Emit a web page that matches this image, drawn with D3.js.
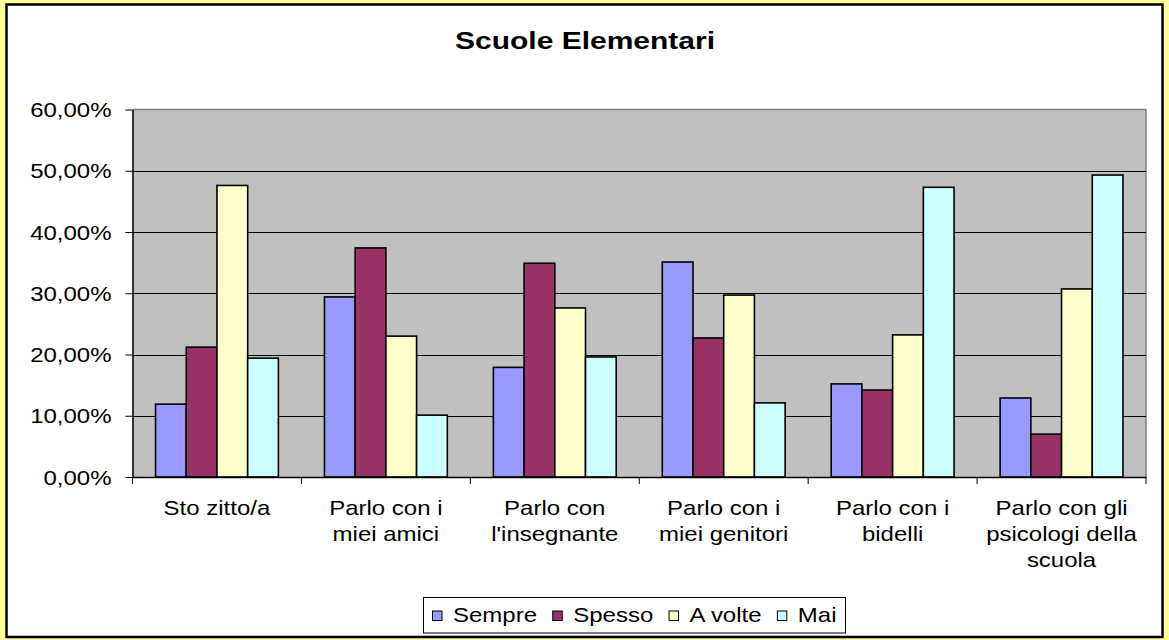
<!DOCTYPE html>
<html>
<head>
<meta charset="utf-8">
<script src="https://cdn.jsdelivr.net/npm/d3@7"></script>
<style>
  body { margin: 0; background: #ffff99; }
  text { font-family: "Liberation Sans", Arial, sans-serif; fill: #000; }
</style>
</head>
<body>
<div id="chart"></div>
<script>
// data
const categories = [
  "Sto zitto/a",
  "Parlo con i miei amici",
  "Parlo con l'insegnante",
  "Parlo con i miei genitori",
  "Parlo con i bidelli",
  "Parlo con gli psicologi della scuola",
];
const categoryLines = [
  ["Sto zitto/a"],
  ["Parlo con i", "miei amici"],
  ["Parlo con", "l'insegnante"],
  ["Parlo con i", "miei genitori"],
  ["Parlo con i", "bidelli"],
  ["Parlo con gli", "psicologi della", "scuola"],
];
const seriesNames = ["Sempre", "Spesso", "A volte", "Mai"];
const sempre = [0.119, 0.294, 0.179, 0.351, 0.152, 0.129];
const spesso = [0.212, 0.374, 0.349, 0.227, 0.142, 0.07];
const aVolte = [0.476, 0.23, 0.276, 0.297, 0.232, 0.307];
const mai = [0.194, 0.101, 0.196, 0.121, 0.473, 0.493];
const yTicks = [0, 0.1, 0.2, 0.3, 0.4, 0.5, 0.6];
const colors = ["#9999ff", "#993366", "#ffffcc", "#ccffff"];

const values = [sempre, spesso, aVolte, mai];
const table = categories.map((c, i) => ({
  category: c,
  lines: categoryLines[i],
  bars: seriesNames.map((s, j) => ({ series: s, value: values[j][i] })),
}));

const width = 1169;
const height = 640;
const plot = { left: 132.5, right: 1146, top: 109.5, bottom: 477 };
const stretch = 1.2; // text in the picture is drawn wider than normal

const it = d3.formatLocale({ decimal: ",", thousands: ".", grouping: [3], currency: ["€", ""] });
const pct = it.format(".2%");

const svg = d3
  .select("#chart")
  .append("svg")
  .attr("width", width)
  .attr("height", height);

svg.append("rect").attr("width", width).attr("height", height).attr("fill", "#ffff99");
svg
  .append("rect")
  .attr("x", 6.5)
  .attr("y", 4.5)
  .attr("width", 1156)
  .attr("height", 632.5)
  .attr("fill", "#fff")
  .attr("stroke", "#000")
  .attr("stroke-width", 2.5);

// title
svg
  .append("text")
  .attr("transform", `translate(585,49) scale(1.25,1)`)
  .attr("text-anchor", "middle")
  .style("font-size", "24px")
  .style("font-weight", "bold")
  .text("Scuole Elementari");

const x0 = d3.scaleBand().domain(categories).range([plot.left, plot.right]);
const x1 = d3
  .scaleBand()
  .domain(seriesNames)
  .range([0, x0.bandwidth()])
  .paddingInner(0)
  .paddingOuter(0.75);
const y = d3.scaleLinear().domain([0, 0.6]).range([plot.bottom, plot.top]);
const color = d3.scaleOrdinal().domain(seriesNames).range(colors);

// plot area
svg
  .append("rect")
  .attr("x", plot.left)
  .attr("y", plot.top)
  .attr("width", plot.right - plot.left)
  .attr("height", plot.bottom - plot.top)
  .attr("fill", "#c0c0c0");

svg
  .append("path")
  .attr("d", `M${plot.left},${plot.top}H${plot.right}V${plot.bottom}`)
  .attr("fill", "none")
  .attr("stroke", "#808080")
  .attr("stroke-width", 1.5);

svg
  .append("g")
  .selectAll("line")
  .data(yTicks.filter((t) => t > 0 && t < 0.6))
  .enter()
  .append("line")
  .attr("x1", plot.left)
  .attr("x2", plot.right)
  .attr("y1", (d) => Math.round(y(d)) + 0.5)
  .attr("y2", (d) => Math.round(y(d)) + 0.5)
  .attr("stroke", "#000")
  .attr("stroke-width", 1);

// bars
const group = svg
  .selectAll(".group")
  .data(table)
  .enter()
  .append("g")
  .attr("class", "group")
  .attr("transform", (d) => `translate(${x0(d.category)},0)`);

group
  .selectAll("rect")
  .data((d) => d.bars)
  .enter()
  .append("rect")
  .attr("x", (d) => x1(d.series))
  .attr("y", (d) => y(d.value))
  .attr("width", x1.bandwidth())
  .attr("height", (d) => y(0) - y(d.value))
  .attr("fill", (d) => color(d.series))
  .attr("stroke", "#000")
  .attr("stroke-width", 1.6);

// y axis
const yAxis = svg
  .append("g")
  .attr("transform", `translate(${plot.left},0)`)
  .call(d3.axisLeft(y).tickValues(yTicks).tickFormat(pct).tickSize(7).tickSizeOuter(0));
yAxis.select(".domain").attr("stroke", "#000").attr("stroke-width", 1.5);
yAxis.selectAll(".tick line").attr("stroke", "#000");
yAxis
  .selectAll(".tick text")
  .attr("x", null)
  .attr("dy", "0.35em")
  .attr("transform", `translate(-21,0) scale(${stretch},1)`)
  .attr("text-anchor", "end")
  .style("font-size", "20px")
  .style("font-family", '"Liberation Sans", Arial, sans-serif')
  .attr("fill", "#000");

// x axis
const xAxis = svg
  .append("g")
  .attr("transform", `translate(0,${plot.bottom})`)
  .call(d3.axisBottom(x0).tickSize(0).tickFormat(""));
xAxis.select(".domain").attr("stroke", "#000").attr("stroke-width", 1.5);

svg
  .append("g")
  .selectAll("line")
  .data(categories.concat([null]))
  .enter()
  .append("line")
  .attr("x1", (d) => (d === null ? plot.right : x0(d)))
  .attr("x2", (d) => (d === null ? plot.right : x0(d)))
  .attr("y1", plot.bottom)
  .attr("y2", plot.bottom + 7)
  .attr("stroke", "#000");

const catLabel = svg
  .selectAll(".catLabel")
  .data(table)
  .enter()
  .append("text")
  .attr("class", "catLabel")
  .attr("transform", (d) => `translate(${x0(d.category) + x0.bandwidth() / 2},515) scale(${stretch},1)`)
  .attr("text-anchor", "middle")
  .style("font-size", "20px");

catLabel
  .selectAll("tspan")
  .data((d) => d.lines)
  .enter()
  .append("tspan")
  .attr("x", 0)
  .attr("y", (d, i) => i * 26)
  .text((d) => d);

// legend
const legendBox = { x: 423.5, y: 597.5, w: 422, h: 35.5 };
const legend = svg.append("g");
legend
  .append("rect")
  .attr("x", legendBox.x)
  .attr("y", legendBox.y)
  .attr("width", legendBox.w)
  .attr("height", legendBox.h)
  .attr("fill", "#fff")
  .attr("stroke", "#000")
  .attr("stroke-width", 1);

const items = legend
  .selectAll(".item")
  .data(seriesNames)
  .enter()
  .append("g")
  .attr("class", "item");

items
  .append("rect")
  .attr("width", 9.5)
  .attr("height", 9.5)
  .attr("y", 611)
  .attr("fill", (d) => color(d))
  .attr("stroke", "#000")
  .attr("stroke-width", 1);

items
  .append("text")
  .attr("y", 622)
  .style("font-size", "20px")
  .text((d) => d);

// lay out the legend items one after another
const textWidths = [];
items.select("text").each(function () {
  textWidths.push(this.getComputedTextLength() * stretch);
});
const swatchGap = 11;
const used = d3.sum(textWidths) + seriesNames.length * (9.5 + swatchGap);
const itemGap = (legendBox.w - 18 - used) / (seriesNames.length - 1);
let cursor = legendBox.x + 9;
items.each(function (d, i) {
  const g = d3.select(this);
  g.select("rect").attr("x", cursor);
  g.select("text").attr("transform", `translate(${cursor + 9.5 + swatchGap},0) scale(${stretch},1)`);
  cursor += 9.5 + swatchGap + textWidths[i] + itemGap;
});
</script>
</body>
</html>
